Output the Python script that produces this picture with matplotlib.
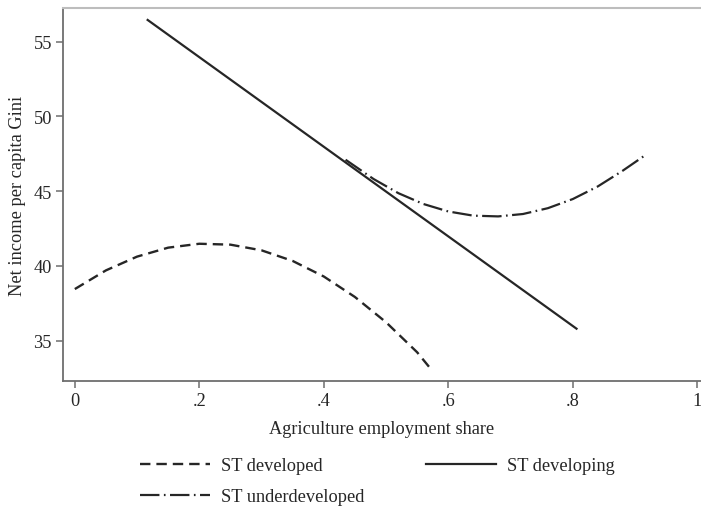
import numpy as np
import matplotlib
matplotlib.use("Agg")
import matplotlib.pyplot as plt

plt.rcParams['font.family'] = ['Liberation Serif', 'DejaVu Serif']
plt.rcParams['lines.scale_dashes'] = False

# fitted curves, read along agriculture employment share
x_developed = [0.0, 0.05, 0.10, 0.15, 0.20, 0.25, 0.30, 0.35, 0.40, 0.45, 0.50, 0.55, 0.572]
y_developed = [38.45, 39.70, 40.62, 41.22, 41.48, 41.42, 41.04, 40.33, 39.29, 37.92, 36.23, 34.22, 33.1]

x_developing = [0.117, 0.806]
y_developing = [56.45, 35.8]

x_under = [0.435, 0.48, 0.52, 0.56, 0.60, 0.64, 0.68, 0.72, 0.76, 0.80, 0.84, 0.88, 0.918]
y_under = [47.1, 45.81, 44.86, 44.14, 43.64, 43.36, 43.31, 43.47, 43.86, 44.47, 45.31, 46.36, 47.45]

xticks = [0, 0.2, 0.4, 0.6, 0.8, 1]
xtick_labels = ['0', '.2', '.4', '.6', '.8', '1']
yticks = [35, 40, 45, 50, 55]

ink = '#262626'
fs = 13.2

fig = plt.figure(figsize=(7.01, 5.10), dpi=100)
ax = fig.add_axes([63/701, 1 - 382/510, (701 - 63)/701, (382 - 9)/510])

l1, = ax.plot(x_developed, y_developed, color=ink, lw=1.7, dashes=(7.5, 4.3),
              label='ST developed')
l2, = ax.plot(x_developing, y_developing, color=ink, lw=1.6, label='ST developing')
l3, = ax.plot(x_under, y_under, color=ink, lw=1.6, dashes=(14, 3.2, 1.2, 3.2),
              label='ST underdeveloped')

ax.set_xlim(-0.019, 1.006)
ax.set_ylim(32.3, 57.25)
ax.set_xticks(xticks)
ax.set_xticklabels(xtick_labels)
ax.set_yticks(yticks)

ax.spines['right'].set_visible(False)
ax.spines['top'].set_color('#bdbdbd')
ax.spines['top'].set_linewidth(1.5)
for s in ['left', 'bottom']:
    ax.spines[s].set_color('#6e6e6e')
    ax.spines[s].set_linewidth(1.3)
ax.tick_params(direction='out', length=5, width=1.1, color='#6e6e6e',
               labelsize=fs, labelcolor=ink, pad=3)

ax.set_xlabel('Agriculture employment share', fontsize=fs, color=ink, labelpad=8)
ax.set_ylabel('Net income per capita Gini', fontsize=fs, color=ink, labelpad=5)

fig.legend(handles=[l1, l3, l2], ncol=2, loc='upper left',
           bbox_to_anchor=(140/701, 1 - 458/510), frameon=False,
           fontsize=fs, handlelength=3.8, handletextpad=0.6,
           columnspacing=3.4, labelspacing=0.78, borderpad=0, borderaxespad=0,
           labelcolor=ink)

fig.savefig('out.png', dpi=100)
